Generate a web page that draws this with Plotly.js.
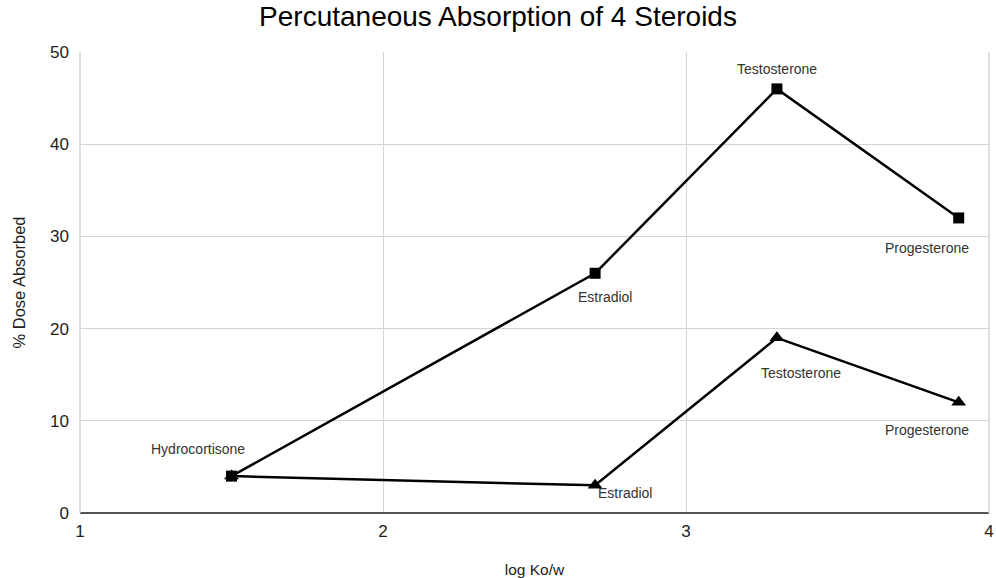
<!DOCTYPE html>
<html>
<head>
<meta charset="utf-8">
<script src="https://cdn.plot.ly/plotly-3.0.1.min.js"></script>
<style>
  html, body { margin: 0; padding: 0; background: #fff; }
  #chart { width: 996px; height: 578px; }
</style>
</head>
<body>
<div id="chart"></div>
<script>
const steroids = ['Hydrocortisone', 'Estradiol', 'Testosterone', 'Progesterone'];
const logKow = [1.5, 2.7, 3.3, 3.9];
const seriesSquare = [4, 26, 46, 32];
const seriesTriangle = [4, 3, 19, 12];

// label offsets in pixels (x, y) for each point
const squareOffsets = [[-34, 27], [10, -24], [0, 20], [-32, -30]];
const triangleOffsets = [null, [30, -8], [24, -35], [-32, -28]];

const font = 'Liberation Sans, Arial, sans-serif';

let traceSquare = {
    x: logKow,
    y: seriesSquare,
    type: 'scatter',
    mode: 'lines+markers',
    line: { color: 'black', width: 2.5 },
    marker: { symbol: 'square', size: 11, color: 'black' },
    hoverinfo: 'skip'
};

let traceTriangle = {
    x: logKow,
    y: seriesTriangle,
    type: 'scatter',
    mode: 'lines+markers',
    line: { color: 'black', width: 2.5 },
    marker: { symbol: 'triangle-up', size: 13, color: 'black' },
    hoverinfo: 'skip'
};

function makeLabels(ys, offsets) {
    let out = [];
    steroids.forEach((name, i) => {
        if (!offsets[i]) return;
        out.push({
            x: logKow[i], y: ys[i], xref: 'x', yref: 'y',
            text: name, showarrow: false,
            xshift: offsets[i][0], yshift: offsets[i][1],
            font: { family: font, size: 14, color: '#333' }
        });
    });
    return out;
}

let layout = {
    width: 996,
    height: 578,
    showlegend: false,
    paper_bgcolor: 'white',
    plot_bgcolor: 'white',
    margin: { l: 80, r: 7, t: 52, b: 65 },
    title: {
        text: 'Percutaneous Absorption of 4 Steroids',
        font: { family: font, size: 28, color: '#000' },
        x: 0.5, xanchor: 'center', y: 0.972, yanchor: 'middle'
    },
    xaxis: {
        range: [1, 4],
        dtick: 1,
        showgrid: true,
        gridcolor: '#d4d4d4',
        gridwidth: 1,
        zeroline: false,
        showline: false,
        ticks: '',
        ticklabelstandoff: 6,
        tickfont: { family: font, size: 17, color: '#222' },
        title: { text: 'log Ko/w', font: { family: font, size: 15.5, color: '#222' }, standoff: 24 }
    },
    yaxis: {
        range: [0, 50],
        dtick: 10,
        showgrid: true,
        gridcolor: '#d4d4d4',
        gridwidth: 1,
        zeroline: true,
        zerolinecolor: '#555',
        zerolinewidth: 1.5,
        showline: false,
        ticks: '',
        ticklabelstandoff: 10,
        tickfont: { family: font, size: 17, color: '#222' },
        title: { text: '% Dose Absorbed', font: { family: font, size: 16.5, color: '#222' }, standoff: 20 }
    },
    annotations: makeLabels(seriesSquare, squareOffsets).concat(makeLabels(seriesTriangle, triangleOffsets)),
    shapes: [
        { type: 'line', xref: 'paper', yref: 'paper', x0: 0, x1: 0, y0: 0, y1: 1, line: { color: '#d4d4d4', width: 1.5 } },
        { type: 'line', xref: 'paper', yref: 'paper', x0: 1, x1: 1, y0: 0, y1: 1, line: { color: '#d4d4d4', width: 1.5 } }
    ]
};

Plotly.newPlot('chart', [traceSquare, traceTriangle], layout, { displayModeBar: false, staticPlot: true });
</script>
</body>
</html>
